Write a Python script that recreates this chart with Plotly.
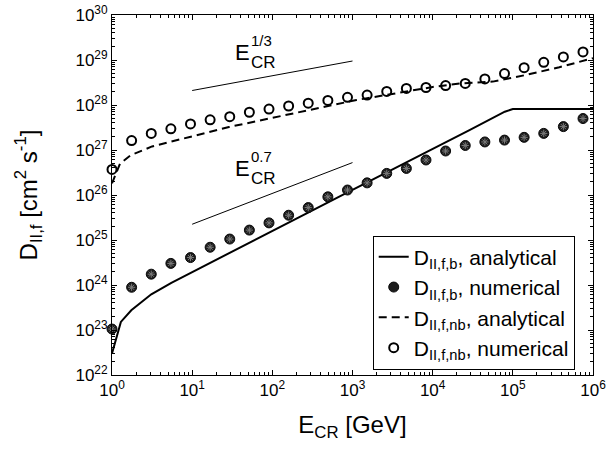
import plotly.graph_objects as go

# ---- data ----
E_num = [1, 1.757, 3.088, 5.426, 9.533, 16.75, 29.43, 51.71, 90.86, 159.7, 280.5, 492.9,
         866.1, 1522, 2674, 4699, 8256, 14507, 25491, 44792, 78705, 138300, 243000,
         427000, 750400]

D_b_num = [1.05e23, 8.9e23, 1.74e24, 3.02e24, 4.07e24, 6.9e24, 1.05e25, 1.66e25, 2.4e25,
           3.55e25, 5.25e25, 9.1e25, 1.29e26, 1.86e26, 3.02e26, 3.89e26, 6.0e26, 9.5e26,
           1.26e27, 1.51e27, 1.66e27, 1.91e27, 2.34e27, 3.31e27, 5.0e27]

D_nb_num = [3.7e26, 1.62e27, 2.34e27, 2.95e27, 3.8e27, 4.68e27, 5.5e27, 6.9e27, 8.1e27,
            9.5e27, 1.1e28, 1.26e28, 1.48e28, 1.66e28, 2.0e28, 2.34e28, 2.45e28, 2.7e28,
            3.02e28, 3.8e28, 5.0e28, 6.76e28, 8.9e28, 1.17e29, 1.51e29]

E_b_ana = [1, 1.29, 1.74, 3.09, 5.5, 9.77, 832, 28800, 79400, 100000, 1000000]
D_b_ana = [3.0e22, 1.51e23, 2.75e23, 6.2e23, 1.12e24, 1.9e24, 1.1e26, 2.75e27,
           7.1e27, 8.1e27, 8.1e27]

E_nb_ana = [1, 1.26, 1.70, 3.16, 9.33, 28.8, 91.2, 1122, 10000, 21900, 56200, 148000,
            380000, 1000000]
D_nb_ana = [1.82e26, 5.0e26, 7.6e26, 1.2e27, 1.95e27, 3.24e27, 5.0e27, 1.29e28,
            2.51e28, 3.02e28, 3.31e28, 4.68e28, 6.9e28, 1.1e29]

E_ref = [10, 1000]
D_ref13 = [2.1e28, 9.5e28]
D_ref07 = [2.24e25, 5.25e26]

x_tick_exp = [0, 1, 2, 3, 4, 5, 6]
y_tick_exp = [22, 23, 24, 25, 26, 27, 28, 29, 30]

FONT = "Liberation Sans"

fig = go.Figure()

fig.add_trace(go.Scatter(
    x=E_b_ana, y=D_b_ana, mode="lines",
    line=dict(color="black", width=2),
    name="D<sub>II,f,b</sub>, analytical"))
fig.add_trace(go.Scatter(
    x=E_num, y=D_b_num, mode="markers", cliponaxis=False,
    marker=dict(symbol="circle", size=10, color="#1c1c1c",
                line=dict(color="#0a0a0a", width=1)),
    name="D<sub>II,f,b</sub>, numerical"))
fig.add_trace(go.Scatter(
    x=E_num, y=D_b_num, mode="markers", showlegend=False, hoverinfo="skip",
    cliponaxis=False,
    marker=dict(symbol="asterisk-open", size=6, color="#7a7a7a",
                line=dict(color="#7a7a7a", width=1))))
fig.add_trace(go.Scatter(
    x=E_nb_ana, y=D_nb_ana, mode="lines",
    line=dict(color="black", width=2, dash="8px,5px"),
    name="D<sub>II,f,nb</sub>, analytical"))
fig.add_trace(go.Scatter(
    x=E_num, y=D_nb_num, mode="markers", cliponaxis=False,
    marker=dict(symbol="circle-open", size=9, color="black",
                line=dict(color="black", width=2)),
    name="D<sub>II,f,nb</sub>, numerical"))

# slope guide lines
fig.add_trace(go.Scatter(x=E_ref, y=D_ref13, mode="lines", showlegend=False,
                         hoverinfo="skip", line=dict(color="black", width=1)))
fig.add_trace(go.Scatter(x=E_ref, y=D_ref07, mode="lines", showlegend=False,
                         hoverinfo="skip", line=dict(color="black", width=1)))

def slope_label(xe, ye, sup):
    # xe, ye in log10 units (log axes)
    fig.add_annotation(x=xe, y=ye, xref="x", yref="y", text="E", showarrow=False,
                       font=dict(family=FONT, size=22, color="black"),
                       xanchor="right", yanchor="middle", borderpad=0,
                       xshift=1, yshift=-2)
    fig.add_annotation(x=xe, y=ye, xref="x", yref="y", text=sup, showarrow=False,
                       font=dict(family=FONT, size=15, color="black"),
                       xanchor="left", yanchor="bottom", xshift=0, yshift=1, borderpad=0)
    fig.add_annotation(x=xe, y=ye, xref="x", yref="y", text="CR", showarrow=False,
                       font=dict(family=FONT, size=17, color="black"),
                       xanchor="left", yanchor="top", xshift=0, yshift=-1, borderpad=0)

slope_label(1.72, 29.21, "1/3")
slope_label(1.72, 26.63, "0.7")

minor_vals = [m * 10.0 ** e for e in range(0, 7) for m in range(2, 10)]
minor_vals_y = [m * 10.0 ** e for e in range(22, 30) for m in range(2, 10)]

fig.update_xaxes(
    type="log", range=[0, 6], automargin=False, ticklabeloverflow="allow",
    tickmode="array", tickvals=[10.0 ** e for e in x_tick_exp],
    ticktext=["10<sup>%d</sup>" % e for e in x_tick_exp],
    ticks="inside", ticklen=5, tickwidth=1, tickcolor="black",
    minor=dict(ticks="inside", ticklen=3, tickcolor="black", tickmode="array",
               tickvals=minor_vals, showgrid=False),
    showline=True, linecolor="black", linewidth=1, mirror="ticks",
    showgrid=False, zeroline=False,
    tickfont=dict(family=FONT, size=17, color="black"),
    title=dict(text="E<sub>CR</sub> [GeV]", font=dict(family=FONT, size=24, color="black"),
               standoff=16),
)
fig.update_yaxes(
    type="log", range=[22, 30], automargin=False, ticklabeloverflow="allow",
    tickmode="array", tickvals=[10.0 ** e for e in y_tick_exp],
    ticktext=["10<sup>%d</sup>" % e for e in y_tick_exp],
    ticks="inside", ticklen=5, tickwidth=1, tickcolor="black",
    minor=dict(ticks="inside", ticklen=3, tickcolor="black", tickmode="array",
               tickvals=minor_vals_y, showgrid=False),
    showline=True, linecolor="black", linewidth=1, mirror="ticks",
    showgrid=False, zeroline=False,
    tickfont=dict(family=FONT, size=17, color="black"),
    title=dict(text="D<sub>II,f</sub> [cm<sup>2</sup> s<sup>-1</sup>]",
               font=dict(family=FONT, size=24, color="black"), standoff=31),
)

fig.update_layout(
    width=611, height=453, autosize=False,
    margin=dict(l=112, r=18, t=15, b=78),
    paper_bgcolor="white", plot_bgcolor="white",
    font=dict(family=FONT, color="black"),
    showlegend=True,
    legend=dict(x=0.962, y=0.015, xanchor="right", yanchor="bottom",
                bgcolor="white", bordercolor="black", borderwidth=1,
                font=dict(family=FONT, size=21, color="black"),
                tracegroupgap=0, itemwidth=30),
)

fig.write_html("out.html", config={"displayModeBar": False},
               post_script="document.body.style.margin='0';document.body.style.padding='0';")
